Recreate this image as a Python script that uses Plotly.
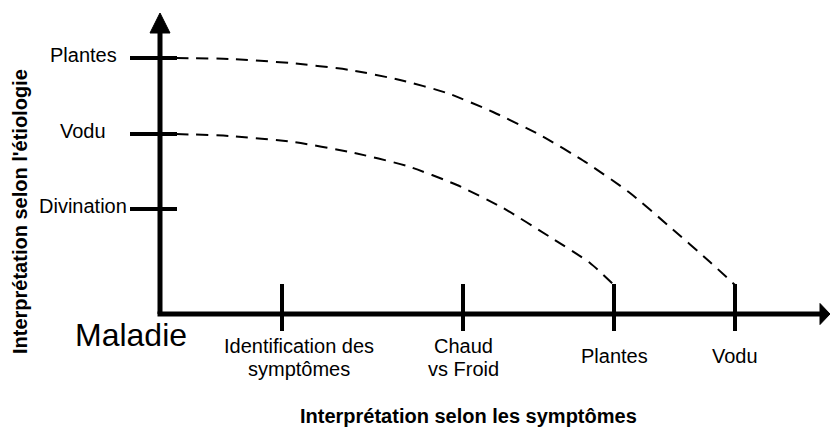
import plotly.graph_objects as go

# ---- data (units: distance from the origin of the diagram) ----
x_labels = ["Identification des<br>symptômes", "Chaud<br>vs Froid", "Plantes", "Vodu"]
x_ticks = [122, 303, 454, 575]
y_labels = ["Divination", "Vodu", "Plantes"]
y_ticks = [105, 180, 256]
origin_label = "Maladie"
x_title = "Interprétation selon les symptômes"
y_title = "Interprétation selon l'étiologie"

# upper dashed curve: from "Plantes" (étiologie) to "Vodu" (symptômes)
curve1_x = [16, 70, 130, 190, 240, 287, 333, 380, 427, 470, 510, 550, 575]
curve1_y = [256, 255, 251, 244, 234, 221, 202, 179, 151, 121, 87, 52, 29]
# lower dashed curve: from "Vodu" (étiologie) to "Plantes" (symptômes)
curve2_x = [16, 70, 133, 190, 247, 297, 343, 390, 430, 454]
curve2_y = [180, 178, 172, 162, 148, 129, 106, 77, 51, 29]

X_END = 670
Y_END = 301

FONT = "Arial, 'Liberation Sans', sans-serif"
BLACK = "#000000"

fig = go.Figure()
for cx, cy in [(curve1_x, curve1_y), (curve2_x, curve2_y)]:
    fig.add_trace(go.Scatter(
        x=cx, y=cy, mode="lines",
        line=dict(color=BLACK, width=2, dash="12px,8px", shape="spline", smoothing=0.6),
        hoverinfo="skip", showlegend=False,
    ))

shapes = []
ax_w = 5
head = 10
# axes
shapes.append(dict(type="line", xref="x", yref="y", x0=-2.5, y0=0, x1=X_END - head, y1=0,
                   line=dict(color=BLACK, width=ax_w)))
shapes.append(dict(type="line", xref="x", yref="y", x0=0, y0=0, x1=0, y1=Y_END - 20,
                   line=dict(color=BLACK, width=ax_w)))
# arrow heads
shapes.append(dict(type="path", xref="x", yref="y",
                   path=f"M {X_END-head},{-10.5} L {X_END},0 L {X_END-head},{10.5} Z",
                   fillcolor=BLACK, line=dict(color=BLACK, width=1)))
shapes.append(dict(type="path", xref="x", yref="y",
                   path=f"M -10,{Y_END-20} L 0,{Y_END} L 10,{Y_END-20} Z",
                   fillcolor=BLACK, line=dict(color=BLACK, width=1)))
# ticks
for t in x_ticks:
    shapes.append(dict(type="line", xref="x", yref="y", x0=t, y0=-17, x1=t, y1=30,
                       line=dict(color=BLACK, width=4)))
for t in y_ticks:
    shapes.append(dict(type="line", xref="x", yref="y", x0=-30, y0=t, x1=17, y1=t,
                       line=dict(color=BLACK, width=4)))

ann = []
for lab, t in zip(y_labels, y_ticks):
    ann.append(dict(x=-77, y=t + 3, xref="x", yref="y", text=lab, showarrow=False,
                    xanchor="center", yanchor="middle",
                    font=dict(family=FONT, size=20, color=BLACK)))
for i, (lab, t) in enumerate(zip(x_labels, x_ticks)):
    lines = lab.split("<br>")
    cx = t + (17 if i == 0 else 0)
    if len(lines) == 1:
        ann.append(dict(x=cx, y=-42, xref="x", yref="y", text=lines[0], showarrow=False,
                        xanchor="center", yanchor="middle",
                        font=dict(family=FONT, size=20, color=BLACK)))
    else:
        for j, ln in enumerate(lines):
            ann.append(dict(x=cx, y=-32 - 23 * j, xref="x", yref="y", text=ln, showarrow=False,
                            xanchor="center", yanchor="middle",
                            font=dict(family=FONT, size=20, color=BLACK)))
ann.append(dict(x=-29, y=-21, xref="x", yref="y", text=origin_label, showarrow=False,
                xanchor="center", yanchor="middle",
                font=dict(family=FONT, size=32, color=BLACK)))
ann.append(dict(x=308, y=-102, xref="x", yref="y", text=f"<b>{x_title}</b>", showarrow=False,
                xanchor="center", yanchor="middle",
                font=dict(family=FONT, size=20, color=BLACK)))
ann.append(dict(x=-140, y=102, xref="x", yref="y", text=f"<b>{y_title}</b>", showarrow=False,
                xanchor="center", yanchor="middle", textangle=-90,
                font=dict(family=FONT, size=20, color=BLACK)))

fig.update_layout(
    width=830, height=429,
    margin=dict(l=0, r=0, t=0, b=0),
    paper_bgcolor="white", plot_bgcolor="white",
    xaxis=dict(range=[-160, 670], visible=False, fixedrange=True),
    yaxis=dict(range=[-115, 314], visible=False, fixedrange=True),
    shapes=shapes, annotations=ann,
    showlegend=False,
)

fig.write_html("out.html", config={"displayModeBar": False},
               post_script="document.body.style.margin='0';document.body.style.overflow='hidden';")
